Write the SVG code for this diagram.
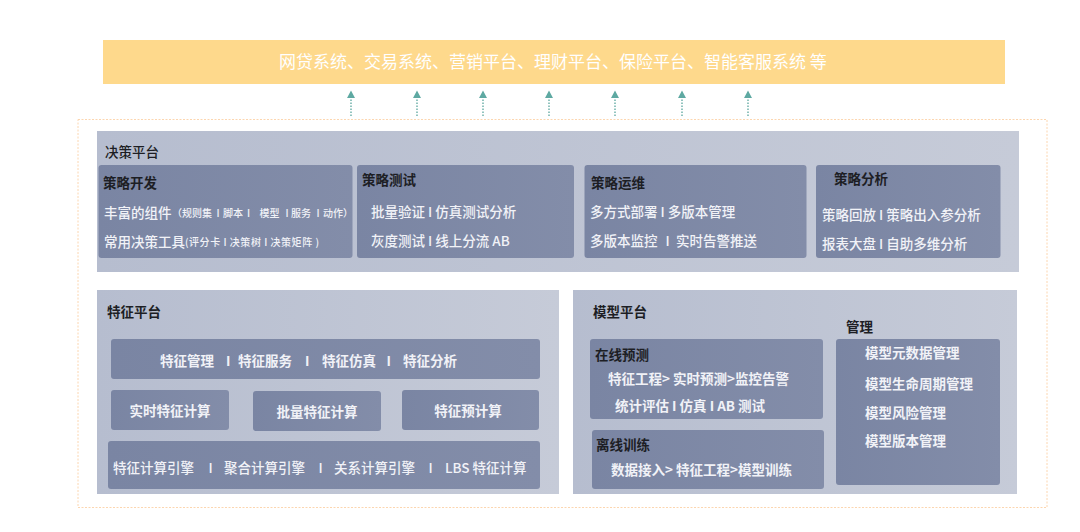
<svg xmlns="http://www.w3.org/2000/svg" width="1080" height="532" viewBox="0 0 1080 532">
<defs>
<linearGradient id="panelG" x1="0" y1="0" x2="1" y2="0">
<stop offset="0" stop-color="#b6bdcf"/>
<stop offset="1" stop-color="#c6cbd8"/>
</linearGradient>
<linearGradient id="boxG" x1="0" y1="0" x2="1" y2="0">
<stop offset="0" stop-color="#7a85a3"/>
<stop offset="1" stop-color="#838da9"/>
</linearGradient>
<marker id="ah" viewBox="0 0 8 8" refX="0.5" refY="4" markerWidth="8" markerHeight="8" markerUnits="userSpaceOnUse" orient="auto">
<path d="M0,0 L7.5,4 L0,8 Z" fill="#5ea9a2"/>
</marker>
</defs>
<style>
text{font-family:"Noto Sans CJK SC","Noto Sans",sans-serif;}
.panel{fill:url(#panelG);}
.box{fill:url(#boxG);}
.ttl{fill:#1d1e24;font-size:13.5px;font-weight:700;}
.ttl5{fill:#1d1e24;font-size:13.5px;font-weight:500;}
.bt{fill:#f1f2f7;font-size:13.5px;font-weight:500;}
.bb{fill:#f1f2f7;font-size:13.5px;font-weight:700;}
.sm{fill:#f1f2f7;font-size:10px;font-weight:500;}
.c{text-anchor:middle;}
.conn line{stroke:#6fb1ab;stroke-width:1.5;stroke-dasharray:1.5 1.5;}
</style>
<rect width="1080" height="532" fill="#ffffff"/>

<g id="top-systems">
<rect x="103" y="40" width="902" height="44" fill="#fed98c"/>
<text x="279" y="68" style="font-size:17px;fill:#ffffff;">网贷系统、交易系统、营销平台、理财平台、保险平台、智能客服系统 等</text>
</g>

<g id="connectors" class="conn">
<line x1="351" y1="116" x2="351" y2="97.5" marker-end="url(#ah)"/>
<line x1="417" y1="116" x2="417" y2="97.5" marker-end="url(#ah)"/>
<line x1="483" y1="116" x2="483" y2="97.5" marker-end="url(#ah)"/>
<line x1="549" y1="116" x2="549" y2="97.5" marker-end="url(#ah)"/>
<line x1="615" y1="116" x2="615" y2="97.5" marker-end="url(#ah)"/>
<line x1="682" y1="116" x2="682" y2="97.5" marker-end="url(#ah)"/>
<line x1="748" y1="116" x2="748" y2="97.5" marker-end="url(#ah)"/>
</g>

<rect x="78" y="119.5" width="969" height="388" fill="none" stroke="#fcd6b0" stroke-width="1" stroke-dasharray="2 1.5"/>

<g id="decision-platform">
<rect class="panel" x="97" y="131" width="922" height="141"/>
<text class="ttl5" x="105" y="157">决策平台</text>
</g>

<g id="strategy-dev">
<rect class="box" x="98.5" y="165" width="254" height="93" rx="3"/>
<text class="ttl" x="103" y="187.5">策略开发</text>
<text class="bt" x="104" y="217.5">丰富的组件</text>
<text class="sm" y="217"><tspan x="172">（规则集</tspan><tspan x="216.5">I</tspan><tspan x="223">脚本</tspan><tspan x="247">I</tspan><tspan x="259.5">模型</tspan><tspan x="285.5">I</tspan><tspan x="291">服务</tspan><tspan x="316.5">I</tspan><tspan x="323">动作）</tspan></text>
<text class="bt" x="104" y="246.5">常用决策工具</text>
<text class="sm" x="185" y="246" textLength="134" lengthAdjust="spacing" xml:space="preserve">(评分卡 I 决策树 I 决策矩阵 )</text>
</g>

<g id="strategy-test">
<rect class="box" x="357" y="165" width="217" height="93" rx="3"/>
<text class="ttl" x="362" y="185">策略测试</text>
<text class="bt" x="371" y="217">批量验证 I 仿真测试分析</text>
<text class="bt" x="371" y="246">灰度测试 I 线上分流 AB</text>
</g>

<g id="strategy-ops">
<rect class="box" x="584.5" y="165" width="222" height="93" rx="3"/>
<text class="ttl" x="591" y="188">策略运维</text>
<text class="bt" x="590" y="217">多方式部署 I 多版本管理</text>
<text class="bt" y="246"><tspan x="590">多版本监控</tspan><tspan x="665.5">I</tspan><tspan x="676">实时告警推送</tspan></text>
</g>

<g id="strategy-analysis">
<rect class="box" x="816" y="165" width="184.5" height="93" rx="3"/>
<text class="ttl" x="834" y="184">策略分析</text>
<text class="bt" x="822" y="219.5">策略回放 I 策略出入参分析</text>
<text class="bt" x="822" y="249">报表大盘 I 自助多维分析</text>
</g>

<g id="feature-platform">
<rect class="panel" x="97" y="290" width="462" height="204"/>
<text class="ttl" x="107" y="316.5">特征平台</text>
</g>

<g id="feature-mgmt">
<rect class="box" x="111" y="339" width="429" height="40" rx="3"/>
<text class="bb" y="366"><tspan x="160">特征管理</tspan><tspan x="226">I</tspan><tspan x="238">特征服务</tspan><tspan x="305">I</tspan><tspan x="322">特征仿真</tspan><tspan x="386.5">I</tspan><tspan x="403">特征分析</tspan></text>
</g>

<g id="realtime-feature">
<rect class="box" x="111" y="390" width="118" height="40" rx="3"/>
<text class="bb c" x="170" y="416">实时特征计算</text>
</g>

<g id="batch-feature">
<rect class="box" x="253" y="391" width="128" height="40" rx="3"/>
<text class="bb c" x="317" y="416.5">批量特征计算</text>
</g>

<g id="pre-feature">
<rect class="box" x="402" y="390" width="137" height="40" rx="3"/>
<text class="bb c" x="468" y="416">特征预计算</text>
</g>

<g id="feature-engines">
<rect class="box" x="108" y="441" width="432" height="48" rx="3"/>
<text class="bt" y="472.5"><tspan x="113">特征计算引擎</tspan><tspan x="208.5">I</tspan><tspan x="224">聚合计算引擎</tspan><tspan x="318.5">I</tspan><tspan x="334">关系计算引擎</tspan><tspan x="428.5">I</tspan><tspan x="445">LBS 特征计算</tspan></text>
</g>

<g id="model-platform">
<rect class="panel" x="573" y="290" width="444" height="204"/>
<text class="ttl" x="593" y="316.5">模型平台</text>
<text class="ttl" x="846" y="332">管理</text>
</g>

<g id="online-predict">
<rect class="box" x="590" y="339" width="233" height="80" rx="3"/>
<text class="ttl" x="595" y="359.5">在线预测</text>
<text class="bb" x="608" y="383.5">特征工程&gt; 实时预测&gt;监控告警</text>
<text class="bb" x="615" y="411">统计评估 I 仿真 I AB 测试</text>
</g>

<g id="offline-train">
<rect class="box" x="592" y="430" width="232" height="59" rx="3"/>
<text class="ttl" x="596" y="449.5">离线训练</text>
<text class="bb" x="611" y="475">数据接入&gt; 特征工程&gt;模型训练</text>
</g>

<g id="model-mgmt">
<rect class="box" x="836" y="339" width="164" height="146" rx="3"/>
<text class="bb" x="865" y="357.5">模型元数据管理</text>
<text class="bb" x="865" y="388.5">模型生命周期管理</text>
<text class="bb" x="865" y="417.5">模型风险管理</text>
<text class="bb" x="865" y="446">模型版本管理</text>
</g>
</svg>
